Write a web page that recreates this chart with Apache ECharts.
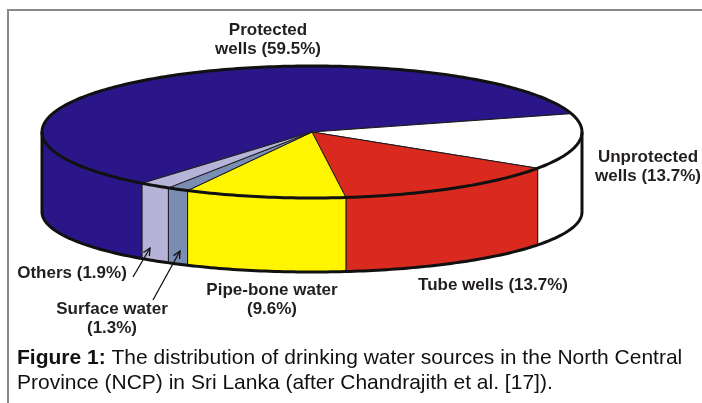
<!DOCTYPE html>
<html>
<head>
<meta charset="utf-8">
<script src="https://cdn.jsdelivr.net/npm/echarts@6/dist/echarts.min.js"></script>
<style>
  html, body { margin: 0; padding: 0; background: #fff; }
  #main { width: 702px; height: 403px; }
</style>
</head>
<body>
<div id="main"></div>
<script>
// data
const categories = ['Protected wells', 'Unprotected wells', 'Tube wells', 'Pipe-bone water', 'Surface water', 'Others'];
const shares = [59.5, 13.7, 13.7, 9.6, 1.3, 1.9];

// styles / layout
const sliceColors = ['#2b1689', '#ffffff', '#da2a1f', '#fff500', '#7a8db3', '#b6b3d8'];
const pie = { cx: 312, cy: 132, rx: 270, ry: 66, ryBottom: 60, depth: 80, start: 129 };
// where each label sits, and where its line breaks ('word' = after first word, 'pct' = before the percent)
const labelLayout = [
  { x: 268, y: 40, br: 'word' },
  { x: 648, y: 167, br: 'word' },
  { x: 493, y: 285, br: '' },
  { x: 272, y: 300, br: 'pct' },
  { x: 112, y: 319, br: 'pct' },
  { x: 72, y: 273, br: '' }
];

const total = shares.reduce((a, b) => a + b, 0);
const startAngles = [];
let acc = pie.start;
shares.forEach(v => { startAngles.push(acc); acc += v / total * 360; });

function pt(deg, bottom) {
  const r = deg * Math.PI / 180;
  if (bottom) return [pie.cx + pie.rx * Math.cos(r), pie.cy + pie.depth + pie.ryBottom * Math.sin(r)];
  return [pie.cx + pie.rx * Math.cos(r), pie.cy + pie.ry * Math.sin(r)];
}
function arc(a0, a1, bottom) {
  const pts = [];
  const n = Math.max(2, Math.ceil(Math.abs(a1 - a0)));
  for (let k = 0; k <= n; k++) pts.push(pt(a0 + (a1 - a0) * k / n, bottom));
  return pts;
}

function renderItem(params, api) {
  const i = params.dataIndex;
  const a0 = startAngles[i];
  const a1 = a0 + api.value(0) / total * 360;
  const color = sliceColors[i];
  const children = [];
  // front wall (only the half facing us is visible)
  [0, 360].forEach(base => {
    const s = Math.max(a0, base), e = Math.min(a1, base + 180);
    if (e > s) {
      children.push({
        type: 'polygon',
        shape: { points: arc(s, e, false).concat(arc(e, s, true)) },
        style: { fill: color, stroke: '#1a1a1a', lineWidth: 1 }
      });
    }
  });
  // top face
  children.push({
    type: 'polygon',
    shape: { points: [[pie.cx, pie.cy]].concat(arc(a0, a1, false)) },
    style: { fill: color, stroke: '#1a1a1a', lineWidth: 1 }
  });
  // heavy outline, drawn once on top
  if (i === shares.length - 1) {
    const ol = { stroke: '#111', lineWidth: 3, fill: null, lineJoin: 'round' };
    children.push({ type: 'polyline', z2: 10, shape: { points: arc(0, 360, false) }, style: ol });
    children.push({ type: 'polyline', z2: 10, shape: { points: arc(0, 180, true) }, style: ol });
    children.push({ type: 'polyline', z2: 10, shape: { points: [pt(0, false), pt(0, true)] }, style: ol });
    children.push({ type: 'polyline', z2: 10, shape: { points: [pt(180, false), pt(180, true)] }, style: ol });
  }
  return { type: 'group', children: children };
}

function labelText(i) {
  const name = categories[i], pct = '(' + shares[i] + '%)';
  const br = labelLayout[i].br;
  if (br === 'word') { const k = name.indexOf(' '); return name.slice(0, k) + '\n' + name.slice(k + 1) + ' ' + pct; }
  if (br === 'pct') return name + '\n' + pct;
  return name + ' ' + pct;
}

function arrow(x1, y1, x2, y2) {
  const ang = Math.atan2(y2 - y1, x2 - x1), L = 8, w = 0.45;
  const p1 = [x2 - L * Math.cos(ang - w), y2 - L * Math.sin(ang - w)];
  const p2 = [x2 - L * Math.cos(ang + w), y2 - L * Math.sin(ang + w)];
  const st = { stroke: '#111', lineWidth: 1.3, fill: null };
  return [
    { type: 'line', z: 100, shape: { x1: x1, y1: y1, x2: x2, y2: y2 }, style: st },
    { type: 'polyline', z: 100, shape: { points: [p1, [x2, y2], p2] }, style: st }
  ];
}

const graphics = [
  { type: 'polyline', shape: { points: [[8, 403], [8, 10], [702, 10]] }, style: { stroke: '#8a8a8a', lineWidth: 2, fill: null } }
];
labelLayout.forEach((l, i) => {
  graphics.push({
    type: 'text', x: l.x, y: l.y, z: 100,
    style: {
      text: labelText(i), align: 'center', verticalAlign: 'middle',
      font: 'bold 17px "Liberation Sans", Arial, sans-serif', fill: '#231f20', lineHeight: 19
    }
  });
});
arrow(133, 277, 150, 248).forEach(g => graphics.push(g));
arrow(153, 300, 180, 251).forEach(g => graphics.push(g));
graphics.push({
  type: 'text', x: 17, y: 371, z: 100,
  style: {
    text: '{b|Figure 1:} The distribution of drinking water sources in the North Central\nProvince (NCP) in Sri Lanka (after Chandrajith et al. [17]).',
    verticalAlign: 'middle', fill: '#111', lineHeight: 25,
    font: '21px "Liberation Sans", Arial, sans-serif',
    rich: { b: { fontWeight: 'bold', fontSize: 21, fontFamily: '"Liberation Sans", Arial, sans-serif', fill: '#111', lineHeight: 25 } }
  }
});

const chart = echarts.init(document.getElementById('main'));
chart.setOption({
  animation: false,
  series: [{
    type: 'custom',
    coordinateSystem: 'none',
    renderItem: renderItem,
    data: shares.map((v, i) => ({ name: categories[i], value: [v] }))
  }],
  graphic: graphics
});
</script>
</body>
</html>
